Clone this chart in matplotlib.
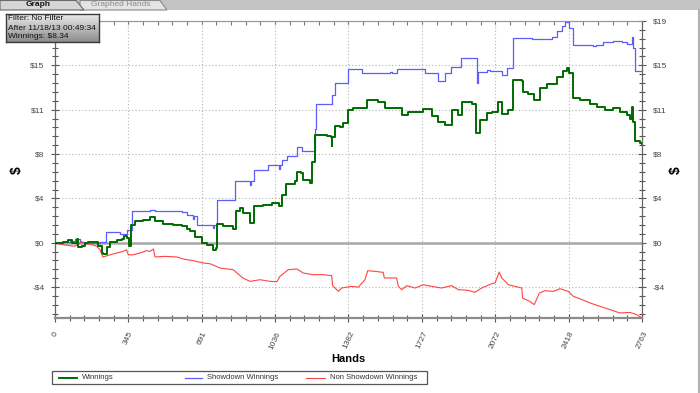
import matplotlib
matplotlib.use('Agg')
import matplotlib.pyplot as plt
import numpy as np
from matplotlib.ticker import MultipleLocator, FixedLocator
from matplotlib.patches import Rectangle, Polygon
from matplotlib.lines import Line2D

plt.rcParams['font.family'] = ['Liberation Sans', 'DejaVu Sans']

# showdown winnings (step line)
sd_hands = [0, 38, 71, 94, 118, 141, 212, 240, 306, 339, 361, 447, 471, 565, 598, 620, 648, 654,
            667, 744, 748, 764, 847, 918, 923, 937, 1003, 1054, 1059, 1067, 1091, 1138, 1161, 1224,
            1229, 1302, 1318, 1381, 1444, 1577, 1586, 1608, 1742, 1801, 1836, 1864, 1911, 1985,
            1990, 2032, 2048, 2103, 2126, 2154, 2244, 2338, 2362, 2385, 2401, 2419, 2440, 2534,
            2546, 2581, 2627, 2667, 2691, 2714, 2722, 2730, 2763]
sd_vals = [0, 0.05, 0.15, 0.34, 0.05, -0.05, 0.1, 0.9, 0.75, 1.1, 2.68, 2.82, 2.7, 2.72, 2.6, 2.4,
           2.05, 2.25, 1.54, 1.3, 1.54, 3.65, 5.25, 4.95, 5.25, 6.25, 6.68, 6.35, 6.68, 7.1, 7.47,
           8.24, 7.87, 9.73, 11.9, 12.67, 13.67, 14.87, 14.58, 14.65, 14.58, 14.87, 14.52, 13.9,
           14.52, 15.1, 15.8, 13.67, 14.6, 14.8, 14.72, 14.38, 15.0, 17.52, 17.42, 17.66, 18.15,
           18.57, 18.95, 18.38, 16.95, 16.86, 16.95, 17.18, 17.32, 17.18, 17.0, 17.6, 16.66,
           14.72, 14.72]

# non showdown winnings
nsd_hands = [0, 38, 71, 94, 126, 141, 165, 196, 212, 225, 251, 290, 321, 337, 345, 369, 400, 432,
             447, 463, 471, 518, 573, 604, 651, 698, 730, 777, 839, 884, 918, 965, 1012, 1044,
             1059, 1098, 1138, 1169, 1216, 1263, 1302, 1307, 1334, 1349, 1396, 1428, 1459, 1472,
             1506, 1545, 1550, 1608, 1616, 1632, 1656, 1695, 1734, 1773, 1820, 1867, 1898, 1945,
             1977, 2008, 2056, 2071, 2091, 2103, 2134, 2165, 2197, 2201, 2228, 2256, 2280, 2306,
             2346, 2377, 2416, 2440, 2471, 2518, 2565, 2612, 2659, 2706, 2738, 2763]
nsd_vals = [0, -0.17, -0.26, -0.3, 0.1, -0.1, -0.12, -0.3, -0.6, -1.22, -1.08, -0.88, -0.74, -0.6,
            -1.03, -1.03, -0.88, -0.68, -0.74, -0.54, -1.22, -1.17, -1.22, -1.4, -1.54, -1.74,
            -1.8, -2.17, -2.31, -3.02, -3.31, -3.17, -3.31, -3.34, -2.88, -2.31, -2.25, -2.6,
            -2.74, -2.74, -2.82, -3.68, -4.17, -3.88, -3.74, -3.8, -3.17, -2.4, -2.45, -2.54,
            -3.02, -3.02, -3.74, -4.02, -3.68, -3.88, -3.6, -3.74, -3.88, -3.68, -4.02, -4.08,
            -4.25, -3.88, -3.51, -3.45, -2.51, -3.02, -3.6, -3.74, -3.88, -4.74, -4.96, -5.3,
            -4.31, -4.11, -4.17, -3.94, -4.17, -4.6, -4.8, -5.16, -5.45, -5.73, -6.02, -5.97,
            -6.16, -6.45]

# total winnings
win_hands = [0, 38, 63, 79, 102, 110, 126, 141, 157, 180, 204, 220, 227, 243, 259, 290, 314, 325,
             337, 350, 359, 377, 416, 447, 471, 510, 557, 596, 620, 635, 659, 691, 714, 742, 758,
             764, 792, 839, 852, 871, 886, 918, 937, 980, 1020, 1056, 1067, 1087, 1130, 1141,
             1157, 1169, 1200, 1208, 1224, 1279, 1298, 1302, 1306, 1318, 1342, 1357, 1381, 1404,
             1444, 1467, 1522, 1553, 1616, 1632, 1663, 1703, 1734, 1773, 1804, 1836, 1867, 1898,
             1914, 1961, 1982, 2000, 2032, 2056, 2071, 2087, 2103, 2134, 2150, 2154, 2197, 2201,
             2228, 2256, 2283, 2314, 2346, 2362, 2393, 2409, 2419, 2440, 2471, 2518, 2550, 2589,
             2628, 2659, 2691, 2706, 2714, 2719, 2730, 2754, 2763]
win_vals = [0, 0.1, 0.26, 0, 0.34, -0.37, -0.3, 0, 0.1, 0.05, -0.26, -0.88, -0.97, -0.37, 0.1,
            0.26, 0.3, 0.54, 0.4, -0.26, 1.54, 1.82, 1.97, 2.2, 1.82, 1.63, 1.54, 1.4, 1.17, 0.97,
            0.45, 0, -0.17, -0.66, -0.46, 1.63, 1.4, 1.2, 2.68, 2.97, 2.54, 1.69, 3.11, 3.25, 3.4,
            3.17, 4.11, 5.05, 5.25, 6.1, 5.97, 5.39, 5.16, 6.96, 9.24, 9.16, 9.1, 8.3, 9.1, 10.0,
            9.9, 10.25, 11.38, 11.52, 11.52, 12.24, 12.04, 11.52, 11.52, 10.95, 11.24, 11.24,
            11.44, 10.87, 10.38, 10.1, 11.38, 10.95, 12.1, 11.9, 9.44, 10.53, 11.1, 11.24, 11.24,
            12.04, 11.04, 11.38, 11.38, 13.95, 13.87, 12.95, 12.73, 12.24, 13.24, 13.58, 13.58,
            14.24, 14.72, 14.95, 14.52, 12.38, 12.24, 11.87, 11.67, 11.38, 11.52, 11.24, 10.95,
            10.61, 11.67, 10.33, 8.73, 8.53, 8.34]

x_ticks = np.linspace(0, 2763, 9)
x_labels = ['0', '345', '691', '1036', '1382', '1727', '2072', '2418', '2763']
y_ticks = [-3.8, 0, 3.8, 7.6, 11.4, 15.2, 19.0]
y_labels = ['-$4', '$0', '$4', '$8', '$11', '$15', '$19']

W, H = 700, 393
fig = plt.figure(figsize=(7, 3.93), dpi=100)
fig.patch.set_facecolor('white')

def fx(px):
    return px / W

def fy(py):
    return 1 - py / H

# tab strip at the top
fig.add_artist(Rectangle((0, fy(10)), 1, 10 / H, transform=fig.transFigure,
                         facecolor='#c4c4c4', edgecolor='none'))
fig.add_artist(Polygon([(fx(80), fy(10)), (fx(80), fy(0.5)), (fx(160), fy(0.5)), (fx(167), fy(10))],
                       closed=True, transform=fig.transFigure, facecolor='#e4e4e4', edgecolor='#8a8a8a', lw=0.8))
fig.add_artist(Polygon([(fx(0), fy(10)), (fx(0), fy(0.5)), (fx(76), fy(0.5)), (fx(84), fy(10))],
                       closed=True, transform=fig.transFigure, facecolor='#d6d6d6', edgecolor='#6a6a6a', lw=0.8))
fig.text(fx(38), fy(5), 'Graph', fontsize=6, fontweight='bold', color='#111', ha='center', va='center')
fig.text(fx(121), fy(5), 'Graphed Hands', fontsize=6, color='#8a8a8a', ha='center', va='center')
fig.add_artist(Line2D([fx(698.5), fx(698.5)], [0, fy(10)], transform=fig.transFigure, color='#b0b0b0', lw=1.5))

ax = fig.add_axes([fx(55), fy(318), (642 - 55) / W, (318 - 21) / H])
ax.set_facecolor('white')

ax.axhline(0, color='#a8a8a8', lw=1.8, zorder=1)
ax.plot(sd_hands, sd_vals, color='#5c5cff', lw=0.9, drawstyle='steps-post', zorder=3, label='Showdown Winnings')
ax.plot(nsd_hands, nsd_vals, color='#ff4444', lw=0.8, zorder=3, label='Non Showdown Winnings')
ax.plot(win_hands, win_vals, color='#006a00', lw=1.4, drawstyle='steps-post', zorder=4, label='Winnings')

ax.set_xlim(0, 2763)
ax.set_ylim(-6.45, 19.0)

ax.xaxis.set_major_locator(FixedLocator(x_ticks))
ax.xaxis.set_minor_locator(MultipleLocator(2763 / 40))
ax.yaxis.set_major_locator(FixedLocator(y_ticks))
ax.yaxis.set_minor_locator(MultipleLocator(0.76))
ax.set_xticklabels(x_labels, rotation=65, ha='center', va='top')
ax.set_yticklabels(y_labels)

ax.grid(True, which='major', color='#b4b4b4', linestyle=(0, (1, 2)), lw=0.8)
ax.set_axisbelow(True)

ax.tick_params(axis='both', which='both', direction='inout', colors='#555555', labelcolor='#444444',
               labelsize=6, width=0.8)
ax.tick_params(axis='both', which='major', length=6)
ax.tick_params(axis='both', which='minor', length=5)
ax.tick_params(axis='y', which='both', left=True, right=True, labelleft=True, labelright=True, pad=4.5)
ax.tick_params(axis='x', which='both', pad=6)
# the info box covers the top left label
ax.yaxis.get_major_ticks()[-1].label1.set_visible(False)

top = ax.secondary_xaxis('top')
top.xaxis.set_major_locator(FixedLocator(x_ticks))
top.xaxis.set_minor_locator(MultipleLocator(2763 / 40))
top.tick_params(which='both', direction='in', length=3, colors='#777777', labeltop=False, width=0.8)
top.spines['top'].set_color('#999999')

for side in ['left', 'right']:
    ax.spines[side].set_color('#666666')
    ax.spines[side].set_linewidth(0.9)
ax.spines['top'].set_color('#999999')
ax.spines['bottom'].set_color('#8c8c8c')
ax.spines['bottom'].set_linewidth(1.6)

fig.text(fx(17), fy(170), '$', fontsize=10, fontweight='bold', rotation=90, ha='center', va='center')
fig.text(fx(676), fy(170), '$', fontsize=10, fontweight='bold', rotation=90, ha='center', va='center')
fig.text(fx(348.5), fy(359), 'Hands', fontsize=8, fontweight='bold', ha='center', va='center')

# legend box drawn by hand to keep the original spacing
fig.add_artist(Rectangle((fx(52), fy(384)), (427 - 52) / W, 13 / H, transform=fig.transFigure,
                         facecolor='white', edgecolor='#555555', lw=0.9))
for line, x0, x1 in [(ax.lines[3], 59, 77), (ax.lines[1], 185, 202), (ax.lines[2], 306, 325)]:
    fig.add_artist(Line2D([fx(x0), fx(x1)], [fy(377.5), fy(377.5)], transform=fig.transFigure,
                          color=line.get_color(), lw=line.get_linewidth()))
    fig.text(fx(x1 + 5), fy(377.5), line.get_label(), fontsize=5.5, color='#333333', va='center', ha='left')

# info box
info = fig.add_axes([fx(6), fy(42), (99 - 6) / W, (42 - 14) / H])
grad = np.linspace(0.92, 0.55, 50).reshape(-1, 1)
info.imshow(grad, cmap='gray', vmin=0, vmax=1, aspect='auto', extent=(0, 1, 0, 1))
info.set_xticks([])
info.set_yticks([])
for s in info.spines.values():
    s.set_color('#3a3a3a')
    s.set_linewidth(1)
for txt, py in [('Filter: No Filter', 19), ('After 11/18/13 00:49:34', 28), ('Winnings: $8.34', 37)]:
    fig.text(fx(8), fy(py), txt, fontsize=6, color='#111111', ha='left', va='center')

fig.savefig('out.png', dpi=100)
